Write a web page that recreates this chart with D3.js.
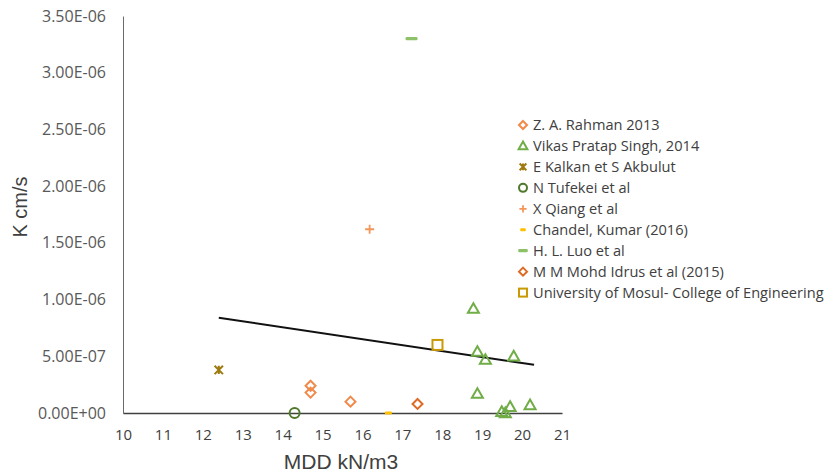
<!DOCTYPE html>
<html>
<head>
<meta charset="utf-8">
<script src="https://cdn.jsdelivr.net/npm/d3@7"></script>
<style>
  html, body { margin: 0; padding: 0; background: #fff; }
  svg { display: block; }
</style>
</head>
<body>
<svg id="chart" width="827" height="473"></svg>
<script>
// ---- data: MDD (kN/m3) vs hydraulic conductivity K (cm/s) ----
const seriesNames = [
  "Z. A. Rahman 2013",
  "Vikas Pratap Singh, 2014",
  "E Kalkan et S Akbulut",
  "N Tufekei et al",
  "X Qiang et al",
  "Chandel, Kumar (2016)",
  "H. L. Luo et al",
  "M M Mohd Idrus et al (2015)",
  "University of Mosul- College of Engineering"
];
const rahmanX = [14.7, 14.7, 15.7];
const rahmanY = [2.4e-7, 1.8e-7, 1.0e-7];
const singhX = [18.78, 18.88, 19.08, 19.79, 18.88, 19.49, 19.58, 19.7, 20.2];
const singhY = [9.2e-7, 5.4e-7, 4.7e-7, 5.0e-7, 1.7e-7, 1e-8, 0, 5.5e-8, 7e-8];
const kalkanX = [12.4];
const kalkanY = [3.8e-7];
const tufekeiX = [14.3];
const tufekeiY = [0];
const qiangX = [16.18];
const qiangY = [1.62e-6];
const chandelX = [16.65];
const chandelY = [0];
const luoX = [17.23];
const luoY = [3.3e-6];
const idrusX = [17.38];
const idrusY = [8e-8];
const mosulX = [17.88];
const mosulY = [6.0e-7];
// linear trend line end points
const trendX = [12.4, 20.3];
const trendY = [8.4e-7, 4.25e-7];

const xTicks = [10, 11, 12, 13, 14, 15, 16, 17, 18, 19, 20, 21];
const yTicks = [0, 5e-7, 1e-6, 1.5e-6, 2e-6, 2.5e-6, 3e-6, 3.5e-6];
const yTickLabels = ["0.00E+00", "5.00E-07", "1.00E-06", "1.50E-06", "2.00E-06", "2.50E-06", "3.00E-06", "3.50E-06"];

const series = [
  { name: seriesNames[0], xs: rahmanX, ys: rahmanY, shape: "diamond", color: "#F08A4B" },
  { name: seriesNames[1], xs: singhX, ys: singhY, shape: "triangle", color: "#70AD47" },
  { name: seriesNames[2], xs: kalkanX, ys: kalkanY, shape: "star", color: "#9E7A10" },
  { name: seriesNames[3], xs: tufekeiX, ys: tufekeiY, shape: "circle", color: "#4F7A2C" },
  { name: seriesNames[4], xs: qiangX, ys: qiangY, shape: "plus", color: "#F4955A" },
  { name: seriesNames[5], xs: chandelX, ys: chandelY, shape: "dash", color: "#FFC000" },
  { name: seriesNames[6], xs: luoX, ys: luoY, shape: "longdash", color: "#8CC168" },
  { name: seriesNames[7], xs: idrusX, ys: idrusY, shape: "diamond", color: "#DD6B26" },
  { name: seriesNames[8], xs: mosulX, ys: mosulY, shape: "square", color: "#C99A06" }
];

// ---- layout ----
const svg = d3.select("#chart");
const plot = { left: 123, right: 562, top: 16, bottom: 413 };

const x = d3.scaleLinear().domain([10, 21]).range([plot.left, plot.right]);
const y = d3.scaleLinear().domain([0, 3.5e-6]).range([plot.bottom, plot.top]);

const labelFont = "'Open Sans', 'DejaVu Sans', sans-serif";
const titleFont = "'Liberation Sans', Arial, sans-serif";

// y axis
const yAxis = d3.axisLeft(y).tickValues(yTicks)
  .tickFormat((d, i) => yTickLabels[i]).tickSize(0).tickPadding(17);
const gy = svg.append("g").attr("transform", `translate(${plot.left},0)`).call(yAxis);
gy.select(".domain").attr("stroke", "#6b6b6b").attr("stroke-width", 1);
gy.selectAll("text").attr("font-family", labelFont).attr("font-size", 16).attr("fill", "#595959");

// x axis
const xAxis = d3.axisBottom(x).tickValues(xTicks).tickFormat(d3.format("d"))
  .tickSize(0).tickPadding(16);
const gx = svg.append("g").attr("transform", `translate(0,${plot.bottom})`).call(xAxis);
gx.select(".domain").attr("stroke", "#404040").attr("stroke-width", 1.3);
gx.selectAll("text").attr("font-family", labelFont).attr("font-size", 15).attr("fill", "#404040");

// axis titles
svg.append("text")
  .attr("transform", `translate(27,207) rotate(-90)`)
  .attr("text-anchor", "middle")
  .attr("font-family", titleFont).attr("font-size", 20).attr("fill", "#404040")
  .text("K cm/s");
svg.append("text")
  .attr("x", 341).attr("y", 469)
  .attr("text-anchor", "middle")
  .attr("font-family", titleFont).attr("font-size", 21).attr("fill", "#404040")
  .text("MDD kN/m3");

// marker painter
function drawMarker(g, shape, color, s) {
  const sw = 2;
  if (shape === "diamond") {
    const r = s * 0.5;
    g.append("path").attr("d", `M0,${-r}L${r},0L0,${r}L${-r},0Z`)
      .attr("fill", "none").attr("stroke", color).attr("stroke-width", sw);
  } else if (shape === "triangle") {
    const r = s * 0.55;
    g.append("path").attr("d", `M0,${-r}L${r},${r * 0.75}L${-r},${r * 0.75}Z`)
      .attr("fill", "none").attr("stroke", color).attr("stroke-width", sw).attr("stroke-linejoin", "miter");
  } else if (shape === "circle") {
    g.append("circle").attr("r", s * 0.5)
      .attr("fill", "none").attr("stroke", color).attr("stroke-width", sw);
  } else if (shape === "square") {
    const r = s * 0.5;
    g.append("rect").attr("x", -r).attr("y", -r).attr("width", 2 * r).attr("height", 2 * r)
      .attr("fill", "none").attr("stroke", color).attr("stroke-width", sw);
  } else if (shape === "plus") {
    const r = s * 0.45;
    g.append("path").attr("d", `M${-r},0L${r},0M0,${-r}L0,${r}`)
      .attr("stroke", color).attr("stroke-width", 1.8);
  } else if (shape === "star") {
    const r = s * 0.42;
    g.append("path").attr("d", `M${-r},${-r}L${r},${r}M${-r},${r}L${r},${-r}M0,${-r}L0,${r}`)
      .attr("stroke", color).attr("stroke-width", 2);
  } else if (shape === "dash") {
    g.append("rect").attr("x", -s * 0.35).attr("y", -1.5).attr("width", s * 0.7).attr("height", 3)
      .attr("rx", 1).attr("fill", color);
  } else if (shape === "longdash") {
    g.append("rect").attr("x", -s * 0.6).attr("y", -1.6).attr("width", s * 1.2).attr("height", 3.2)
      .attr("rx", 1.2).attr("fill", color);
  }
}

// trend line
svg.append("line")
  .attr("x1", x(trendX[0])).attr("y1", y(trendY[0]))
  .attr("x2", x(trendX[1])).attr("y2", y(trendY[1]))
  .attr("stroke", "#111").attr("stroke-width", 2);

// points
series.forEach(s => {
  s.xs.forEach((xv, i) => {
    const g = svg.append("g").attr("transform", `translate(${x(xv)},${y(s.ys[i])})`);
    drawMarker(g, s.shape, s.color, 10);
  });
});

// legend
const legend = svg.append("g").attr("transform", "translate(523,125)");
series.forEach((s, i) => {
  const row = legend.append("g").attr("transform", `translate(0,${i * 20.95})`);
  drawMarker(row.append("g"), s.shape, s.color, 8);
  row.append("text").attr("x", 10).attr("y", 0).attr("dy", "0.35em")
    .attr("font-family", labelFont).attr("font-size", 14.6).attr("fill", "#404040")
    .text(s.name);
});
</script>
</body>
</html>
